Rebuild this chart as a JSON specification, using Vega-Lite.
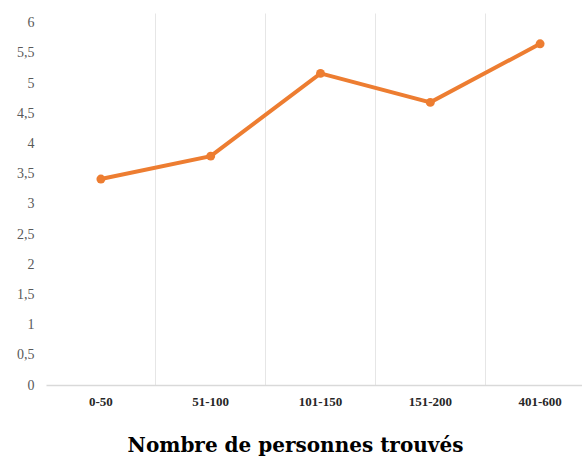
{
  "$schema": "https://vega.github.io/schema/vega-lite/v6.json",
  "autosize": "none",
  "width": 536,
  "height": 372,
  "padding": {"left": 46, "top": 13, "right": 0, "bottom": 75},
  "background": "white",
  "config": {"view": {"stroke": null}, "font": "Liberation Serif"},
  "data": {
    "values": [
      {"tranche": "0-50", "valeur": 3.41},
      {"tranche": "51-100", "valeur": 3.79},
      {"tranche": "101-150", "valeur": 5.16},
      {"tranche": "151-200", "valeur": 4.68},
      {"tranche": "401-600", "valeur": 5.65}
    ]
  },
  "encoding": {
    "x": {
      "field": "tranche",
      "type": "nominal",
      "sort": null,
      "bandPosition": 0.5,
      "scale": {"type": "band", "paddingInner": 0, "paddingOuter": 0, "range": [0, 549]},
      "axis": {
        "title": "Nombre de personnes trouvés",
        "titleFont": "DejaVu Serif",
        "titleFontSize": 20,
        "titleFontWeight": "bold",
        "titleColor": "#000000",
        "titlePadding": 27,
        "titleX": 249,
        "titleAlign": "center",
        "labelAngle": 0,
        "labelFont": "Liberation Serif",
        "labelFontSize": 13,
        "labelFontWeight": "bold",
        "labelColor": "#262626",
        "labelPadding": 10,
        "ticks": false,
        "bandPosition": 0,
        "grid": true,
        "gridColor": {"condition": {"test": "datum.value === '0-50'", "value": "transparent"}, "value": "#e6e6e6"},
        "gridWidth": 1,
        "domainColor": "#d9d9d9",
        "domainWidth": 1.5
      }
    },
    "y": {
      "field": "valeur",
      "type": "quantitative",
      "scale": {"domain": [0, 6.16], "nice": false},
      "axis": {
        "title": null,
        "values": [0, 0.5, 1, 1.5, 2, 2.5, 3, 3.5, 4, 4.5, 5, 5.5, 6],
        "labelExpr": "replace(format(datum.value, '~g'), '.', ',')",
        "labelFont": "Liberation Serif",
        "labelFontSize": 14,
        "labelColor": "#595959",
        "labelPadding": 12,
        "ticks": false,
        "domain": false,
        "grid": false
      }
    }
  },
  "layer": [
    {"mark": {"type": "line", "color": "#ED7D31", "strokeWidth": 4}},
    {"mark": {"type": "point", "filled": true, "color": "#ED7D31", "size": 80, "opacity": 1}}
  ]
}
